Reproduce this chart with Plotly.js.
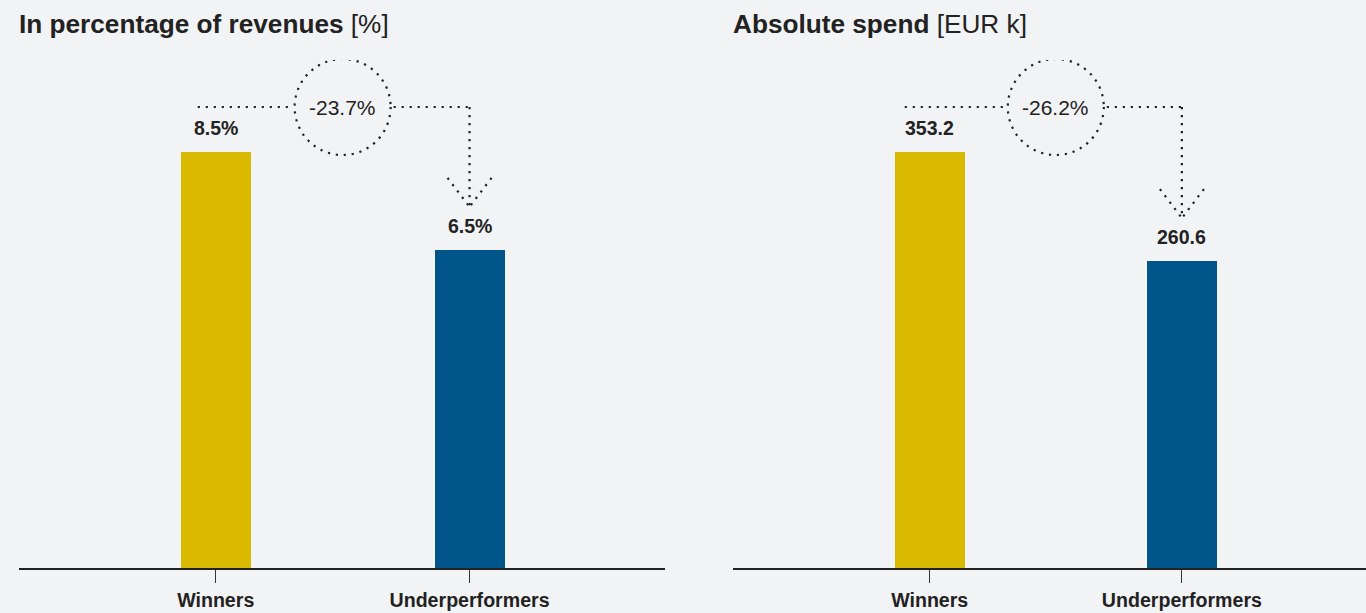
<!DOCTYPE html>
<html><head><meta charset="utf-8">
<script src="https://cdn.plot.ly/plotly-3.0.1.min.js"></script>
<style>html,body{margin:0;padding:0;background:#f2f3f5;} #chart{width:1366px;height:613px;}</style>
</head><body><div id="chart"></div>
<script>
// ---- data ----
const categories = ['Winners', 'Underperformers'];
const pctValues = [8.5, 6.5];
const spendValues = [353.2, 260.6];
const changeValues = [-23.7, -26.2];
const panelTitles = ['<b>In percentage of revenues</b> [%]', '<b>Absolute spend</b> [EUR k]'];
const barColors = ['#d9b800', '#00558a'];

// ---- style / geometry ----
const W = 1366, H = 613;
const M = {l: 0, r: 0, t: 60, b: 45};
const plotH = H - M.t - M.b;
const FONT = '"Liberation Sans", Arial, Helvetica, sans-serif';
const INK = '#222222';
const BG = '#f2f3f5';
const yTopFactor = 1.2212;

const panels = [
  {values: pctValues, change: changeValues[0], fmt: v => v.toFixed(1) + '%', title: panelTitles[0],
   dom: [19, 665], xr: [-0.775, 1.77], startPx: -18, xa: 'x', ya: 'y'},
  {values: spendValues, change: changeValues[1], fmt: v => v.toFixed(1), title: panelTitles[1],
   dom: [733, 1366], xr: [-0.78, 1.73], startPx: -25, xa: 'x2', ya: 'y2'}
];

const traces = [];
const shapes = [];
const annotations = [];
const layout = {
  width: W, height: H,
  margin: M,
  paper_bgcolor: BG, plot_bgcolor: BG,
  showlegend: false,
  font: {family: FONT, color: INK},
  bargap: 0
};

const dot = {color: INK, width: 2.2, dash: '2.2px,5.8px'};

panels.forEach((p, i) => {
  const R = Math.max(...p.values) * yTopFactor;
  const xpx = (p.dom[1] - p.dom[0]) / (p.xr[1] - p.xr[0]);
  const ypx = plotH / R;
  const sfx = i === 0 ? '' : '2';

  traces.push({
    type: 'bar', x: categories, y: p.values,
    xaxis: p.xa, yaxis: p.ya,
    width: 70 / xpx,
    marker: {color: barColors, line: {width: 0}},
    hoverinfo: 'skip'
  });

  layout['xaxis' + sfx] = {
    domain: [p.dom[0] / W, p.dom[1] / W], range: p.xr, anchor: p.ya,
    type: 'category', fixedrange: true,
    showline: true, linecolor: INK, linewidth: 2,
    ticks: 'outside', ticklen: 13, tickwidth: 1, tickcolor: '#333',
    showgrid: false, zeroline: false,
    tickfont: {family: FONT, size: 19.6, color: INK, weight: 'bold'}
  };
  layout['yaxis' + sfx] = {
    domain: [0, 1], range: [0, R], anchor: p.xa, visible: false, fixedrange: true
  };

  const xr = p.xa, yr = p.ya;
  // value labels
  p.values.forEach((v, k) => {
    annotations.push({
      xref: xr, yref: yr, x: k, y: v, text: '<b>' + p.fmt(v) + '</b>',
      showarrow: false, yanchor: 'bottom', yshift: 11,
      font: {family: FONT, size: 19.5, color: INK}
    });
  });

  // panel title
  annotations.push({
    xref: 'paper', yref: 'paper', x: p.dom[0] / W, xanchor: 'left', xshift: -2,
    y: 1 + (M.t - 24) / plotH, yanchor: 'middle',
    text: p.title, showarrow: false,
    font: {family: FONT, size: 26.2, color: INK}
  });

  // connector
  const Y = Math.max(...p.values) + 45 / ypx;
  const cx = 0.5;
  const rx = 48 / xpx, ry = 48 / ypx;
  const tip = p.values[1] + 43 / ypx;
  shapes.push({type: 'line', xref: xr, yref: yr, x0: 0 + p.startPx / xpx, x1: cx - rx - 3 / xpx, y0: Y, y1: Y, line: dot});
  shapes.push({type: 'circle', xref: xr, yref: yr, x0: cx - rx, x1: cx + rx, y0: Y - ry, y1: Y + ry, line: dot});
  shapes.push({type: 'line', xref: xr, yref: yr, x0: cx + rx + 3 / xpx, x1: 1, y0: Y, y1: Y, line: dot});
  shapes.push({type: 'line', xref: xr, yref: yr, x0: 1, x1: 1, y0: Y, y1: tip, line: dot});
  shapes.push({type: 'line', xref: xr, yref: yr, x0: 1 - 22 / xpx, x1: 1, y0: tip + 29 / ypx, y1: tip, line: dot});
  shapes.push({type: 'line', xref: xr, yref: yr, x0: 1 + 22 / xpx, x1: 1, y0: tip + 29 / ypx, y1: tip, line: dot});
  annotations.push({
    xref: xr, yref: yr, x: cx, y: Y, text: p.change.toFixed(1) + '%',
    showarrow: false, font: {family: FONT, size: 21, color: INK}
  });
});

layout.shapes = shapes;
layout.annotations = annotations;

Plotly.newPlot('chart', traces, layout, {displayModeBar: false, staticPlot: true});
</script>
</body></html>
